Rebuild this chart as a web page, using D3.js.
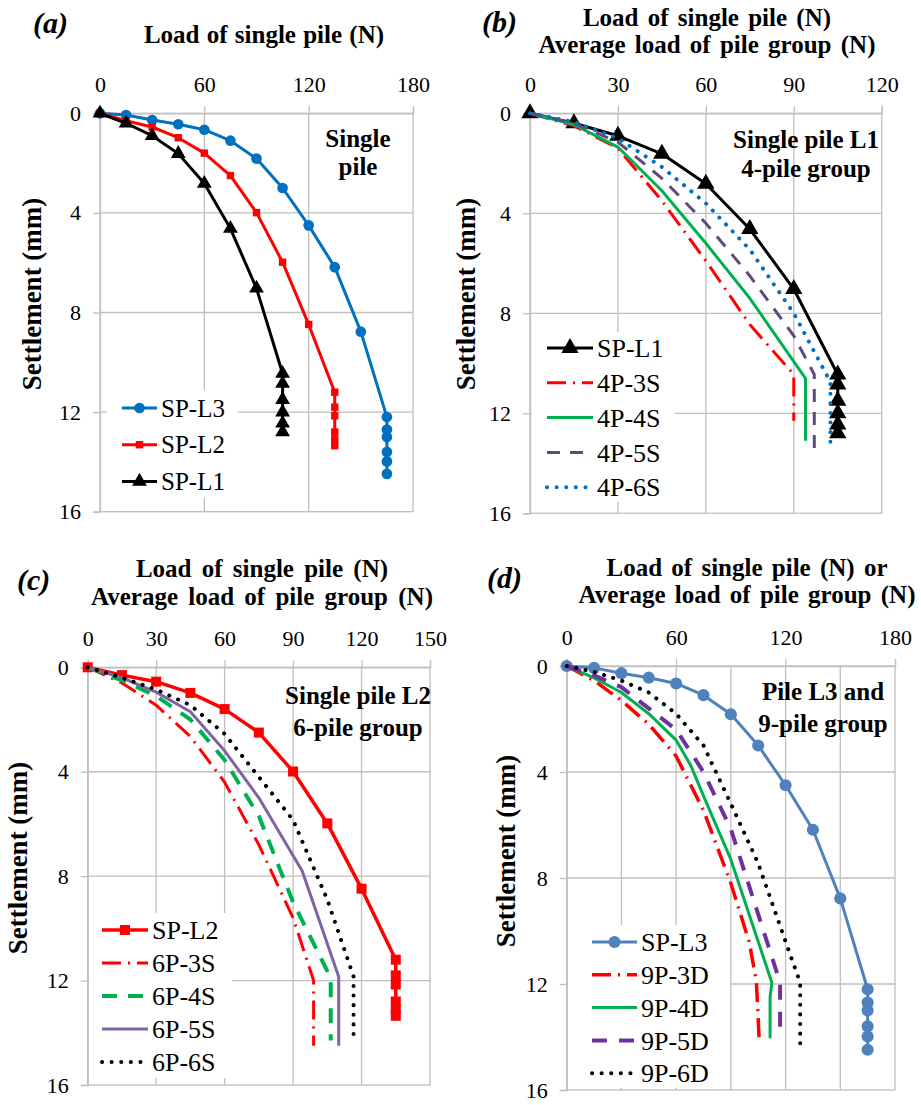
<!DOCTYPE html>
<html>
<head>
<meta charset="utf-8">
<script src="https://cdn.jsdelivr.net/npm/d3@7"></script>
<style>
body { margin: 0; background: #fff; }
svg text { font-family: "Liberation Serif", "Times New Roman", serif; fill: #000; }
</style>
</head>
<body>
<script>
var w = 921;
var h = 1105;

// settlement axis, same for every panel
var yTicks = [0, 4, 8, 12, 16];
var yGrid = [4, 8, 12];

// single piles (load N, settlement mm)
var spL1Load   = [0, 15, 30, 45, 60, 75, 90, 105, 105, 105, 105, 105, 105];
var spL1Settle = [0, 0.4, 0.9, 1.62, 2.82, 4.63, 7.03, 10.45, 10.85, 11.5, 12.0, 12.45, 12.8];
var spL2Load   = [0, 15, 30, 45, 60, 75, 90, 105, 120, 135, 135, 135, 135, 135, 135];
var spL2Settle = [0, 0.3, 0.55, 0.98, 1.6, 2.5, 3.99, 5.98, 8.48, 11.2, 11.8, 12.15, 12.8, 13.1, 13.35];
var spL3Load   = [0, 15, 30, 45, 60, 75, 90, 105, 120, 135, 150, 165, 165, 165, 165, 165, 165];
var spL3Settle = [0, 0.07, 0.27, 0.44, 0.66, 1.1, 1.82, 3.0, 4.5, 6.18, 8.77, 12.2, 12.7, 13.0, 13.6, 13.98, 14.48];

// 4-pile group (average load per pile)
var p4s3Load   = [0, 15, 30, 45, 60, 75, 90, 90];
var p4s3Settle = [0, 0.5, 1.4, 3.5, 5.9, 8.45, 10.45, 12.3];
var p4s4Load   = [0, 15, 30, 45, 60, 75, 94, 94];
var p4s4Settle = [0, 0.45, 1.35, 3.1, 5.2, 7.4, 10.6, 13.1];
var p4s5Load   = [0, 15, 30, 45, 60, 75, 90, 97, 97];
var p4s5Settle = [0, 0.4, 1.15, 2.6, 4.4, 6.5, 8.9, 10.45, 13.45];
var p4s6Load   = [0, 15, 30, 45, 60, 75, 90, 102.5, 102.5];
var p4s6Settle = [0, 0.35, 1.0, 2.15, 3.6, 5.45, 8.0, 10.75, 13.15];

// 6-pile group
var p6s3Load   = [0, 15, 30, 45, 60, 75, 90, 99, 99];
var p6s3Settle = [0, 0.6, 1.45, 2.65, 4.4, 6.8, 9.6, 12.0, 14.5];
var p6s4Load   = [0, 15, 30, 45, 60, 75, 90, 106.5, 106.5];
var p6s4Settle = [0, 0.5, 1.1, 2.0, 3.55, 5.7, 9.0, 11.9, 14.3];
var p6s5Load   = [0, 15, 30, 45, 60, 75, 94, 110, 110];
var p6s5Settle = [0, 0.4, 0.95, 1.7, 3.2, 5.0, 7.8, 11.85, 14.5];
var p6s6Load   = [0, 15, 30, 45, 60, 75, 90, 105, 116.5, 116.5];
var p6s6Settle = [0, 0.4, 0.85, 1.45, 2.55, 4.2, 5.85, 8.9, 11.85, 14.3];

// 9-pile group
var p9d3Load   = [0, 15, 30, 45, 60, 75, 90, 100, 104, 105.5];
var p9d3Settle = [0, 0.55, 1.3, 2.2, 3.4, 5.45, 8.2, 10.4, 11.9, 14.05];
var p9d4Load   = [0, 15, 30, 45, 60, 68, 75, 90, 112.5, 111.5, 111.5];
var p9d4Settle = [0, 0.45, 1.0, 1.8, 2.8, 3.75, 4.9, 7.3, 11.95, 12.5, 14.05];
var p9d5Load   = [0, 15, 30, 45, 60, 75, 90, 117, 117];
var p9d5Settle = [0, 0.35, 0.8, 1.6, 2.4, 4.0, 6.15, 11.95, 13.7];
var p9d6Load   = [0, 15, 30, 45, 60, 75, 90, 105, 120, 128, 128];
var p9d6Settle = [0, 0.22, 0.55, 1.0, 1.8, 3.0, 5.2, 7.45, 10.4, 11.95, 14.25];

// tick labels of the load axes
var xTicksA = [0, 60, 120, 180];
var xTicksB = [0, 30, 60, 90, 120];
var xTicksC = [0, 30, 60, 90, 120, 150];
var xTicksD = [0, 60, 120, 180];

var svg = d3.select("body")
            .append("svg")
            .attr("width", w)
            .attr("height", h);

var DASHDOT = "19 7 2 7";
var DOT = "0.1 9.5";

var panels = [
  {
    label: "(a)", labelX: 33, labelY: 33,
    left: 100, right: 413, top: 113.3, bottom: 511.7, xMax: 180,
    xTicks: xTicksA, xGrid: [60, 120],
    title: ["Load of single pile (N)"], titleX: 264, titleY: [43], titleSpace: 1,
    yLabelX: 32, yLabelY: 294,
    note: ["Single", "pile"], noteX: 358, noteY: [147, 175],
    legend: { x: 122, y: 408, step: 36.7, box: [107, 390, 131, 108], lineW: 35, font: 25 },
    series: [
      { name: "SP-L3", load: spL3Load, settle: spL3Settle, color: "#0070C0", width: 3, marker: d3.symbolCircle, msize: 90 },
      { name: "SP-L2", load: spL2Load, settle: spL2Settle, color: "#FF0000", width: 3, marker: d3.symbolSquare, msize: 55 },
      { name: "SP-L1", load: spL1Load, settle: spL1Settle, color: "#000000", width: 3, marker: d3.symbolTriangle, msize: 95 }
    ]
  },
  {
    label: "(b)", labelX: 482, labelY: 32,
    left: 530, right: 881.7, top: 113.3, bottom: 513.3, xMax: 120,
    xTicks: xTicksB, xGrid: [30, 60, 90],
    title: ["Load of single pile (N)", "Average load of pile group (N)"], titleX: 707, titleY: [26, 53], titleSpace: 3,
    yLabelX: 466, yLabelY: 294,
    note: ["Single pile L1", "4-pile group"], noteX: 806, noteY: [148, 177],
    legend: { x: 547, y: 348, step: 34.8, box: [532, 332, 143, 170], lineW: 46, font: 26 },
    series: [
      { name: "SP-L1", load: spL1Load, settle: spL1Settle, color: "#000000", width: 3, marker: d3.symbolTriangle, msize: 130 },
      { name: "4P-3S", load: p4s3Load, settle: p4s3Settle, color: "#FF0000", width: 3, dash: DASHDOT },
      { name: "4P-4S", load: p4s4Load, settle: p4s4Settle, color: "#00B050", width: 3 },
      { name: "4P-5S", load: p4s5Load, settle: p4s5Settle, color: "#604A7B", width: 3, dash: "13 10" },
      { name: "4P-6S", load: p4s6Load, settle: p4s6Settle, color: "#0070C0", width: 4, dash: DOT, round: true }
    ]
  },
  {
    label: "(c)", labelX: 17, labelY: 590,
    left: 87.7, right: 430, top: 667.3, bottom: 1085, xMax: 150,
    xTicks: xTicksC, xGrid: [30, 60, 90, 120],
    title: ["Load of single pile (N)", "Average load of pile group (N)"], titleX: 262, titleY: [577, 605], titleSpace: 4,
    yLabelX: 18, yLabelY: 858,
    note: ["Single pile L2", "6-pile group"], noteX: 358, noteY: [704, 736],
    legend: { x: 102, y: 930, step: 33, box: [89, 913, 143, 165], lineW: 46, font: 26 },
    series: [
      { name: "SP-L2", load: spL2Load, settle: spL2Settle, color: "#FF0000", width: 3.5, marker: d3.symbolSquare, msize: 100 },
      { name: "6P-3S", load: p6s3Load, settle: p6s3Settle, color: "#FF0000", width: 3, dash: DASHDOT },
      { name: "6P-4S", load: p6s4Load, settle: p6s4Settle, color: "#00B050", width: 4, dash: "15 11" },
      { name: "6P-5S", load: p6s5Load, settle: p6s5Settle, color: "#8064A2", width: 3 },
      { name: "6P-6S", load: p6s6Load, settle: p6s6Settle, color: "#000000", width: 4, dash: DOT, round: true }
    ]
  },
  {
    label: "(d)", labelX: 487, labelY: 588,
    left: 566.7, right: 895, top: 666, bottom: 1090, xMax: 180,
    xTicks: xTicksD, xGrid: [30, 60, 90, 120, 150],
    title: ["Load of single pile (N) or", "Average load of pile group (N)"], titleX: 747, titleY: [576, 603], titleSpace: 3,
    yLabelX: 506, yLabelY: 851,
    note: ["Pile L3 and", "9-pile group"], noteX: 823, noteY: [700, 732],
    legend: { x: 592, y: 942, step: 32.8, box: [568, 925, 162, 163], lineW: 45, font: 26 },
    series: [
      { name: "SP-L3", load: spL3Load, settle: spL3Settle, color: "#4F81BD", width: 3, marker: d3.symbolCircle, msize: 115 },
      { name: "9P-3D", load: p9d3Load, settle: p9d3Settle, color: "#FF0000", width: 3.5, dash: DASHDOT },
      { name: "9P-4D", load: p9d4Load, settle: p9d4Settle, color: "#00B050", width: 3 },
      { name: "9P-5D", load: p9d5Load, settle: p9d5Settle, color: "#7030A0", width: 4, dash: "15 12" },
      { name: "9P-6D", load: p9d6Load, settle: p9d6Settle, color: "#000000", width: 4, dash: DOT, round: true }
    ]
  }
];

function styleLine(sel, s) {
  sel.style("fill", "none")
     .style("stroke", s.color)
     .style("stroke-width", s.width)
     .style("stroke-linejoin", "round")
     .style("stroke-linecap", s.round ? "round" : "butt");
  if (s.dash) sel.style("stroke-dasharray", s.dash);
}

function drawPanel(p) {
  var x = d3.scaleLinear().domain([0, p.xMax]).range([p.left, p.right]);
  var y = d3.scaleLinear().domain([0, 16]).range([p.top, p.bottom]);
  var g = svg.append("g");

  // grid
  g.selectAll(".vgrid")
   .data(p.xGrid)
   .enter()
   .append("line")
   .attr("x1", function (d) { return x(d); })
   .attr("x2", function (d) { return x(d); })
   .attr("y1", p.top)
   .attr("y2", p.bottom)
   .style("stroke", "#bfbfbf")
   .style("stroke-width", 1.3);
  g.selectAll(".hgrid")
   .data(yGrid)
   .enter()
   .append("line")
   .attr("x1", p.left)
   .attr("x2", p.right)
   .attr("y1", function (d) { return y(d); })
   .attr("y2", function (d) { return y(d); })
   .style("stroke", "#bfbfbf")
   .style("stroke-width", 1.3);
  g.append("rect")
   .attr("x", p.left)
   .attr("y", p.top)
   .attr("width", p.right - p.left)
   .attr("height", p.bottom - p.top)
   .style("fill", "none")
   .style("stroke", "#bfbfbf")
   .style("stroke-width", 1.3);

  // axes
  var xAxis = g.append("g")
               .attr("transform", "translate(0," + p.top + ")")
               .call(d3.axisTop(x).tickValues(p.xTicks).tickSize(7).tickPadding(14));
  var yAxis = g.append("g")
               .attr("transform", "translate(" + p.left + ",0)")
               .call(d3.axisLeft(y).tickValues(yTicks).tickSize(7).tickPadding(12));
  [xAxis, yAxis].forEach(function (a) {
    a.select(".domain").style("stroke", "#bfbfbf").style("stroke-width", 1.3);
    a.selectAll(".tick line").style("stroke", "#bfbfbf").style("stroke-width", 1.3);
    a.selectAll(".tick text")
     .style("font-family", "'Liberation Serif', 'Times New Roman', serif")
     .style("font-size", "22px")
     .style("fill", "#000");
  });

  // series
  p.series.forEach(function (s) {
    var pts = d3.zip(s.load, s.settle);
    var line = d3.line()
                 .x(function (d) { return x(d[0]); })
                 .y(function (d) { return y(d[1]); });
    g.append("path").attr("d", line(pts)).call(styleLine, s);
    if (s.marker) {
      g.selectAll(null)
       .data(pts)
       .enter()
       .append("path")
       .attr("d", d3.symbol().type(s.marker).size(s.msize))
       .attr("transform", function (d) { return "translate(" + x(d[0]) + "," + y(d[1]) + ")"; })
       .style("fill", s.color);
    }
  });

  // legend
  var L = p.legend;
  g.append("rect")
   .attr("x", L.box[0]).attr("y", L.box[1])
   .attr("width", L.box[2]).attr("height", L.box[3])
   .style("fill", "#fff");
  p.series.forEach(function (s, i) {
    var ly = L.y + i * L.step;
    g.append("line")
     .attr("x1", L.x).attr("x2", L.x + L.lineW)
     .attr("y1", ly).attr("y2", ly)
     .call(styleLine, s);
    if (s.marker) {
      g.append("path")
       .attr("d", d3.symbol().type(s.marker).size(s.msize))
       .attr("transform", "translate(" + (L.x + L.lineW / 2) + "," + ly + ")")
       .style("fill", s.color);
    }
    g.append("text")
     .attr("x", L.x + L.lineW + 4)
     .attr("y", ly)
     .attr("dy", "0.35em")
     .style("font-size", L.font + "px")
     .text(s.name);
  });

  // texts
  g.append("text")
   .attr("x", p.labelX).attr("y", p.labelY)
   .style("font-size", "30px").style("font-weight", "bold").style("font-style", "italic")
   .text(p.label);
  p.title.forEach(function (t, i) {
    g.append("text")
     .attr("x", p.titleX).attr("y", p.titleY[i])
     .attr("text-anchor", "middle")
     .style("font-size", "25px").style("font-weight", "bold").style("word-spacing", p.titleSpace + "px")
     .text(t);
  });
  p.note.forEach(function (t, i) {
    g.append("text")
     .attr("x", p.noteX).attr("y", p.noteY[i])
     .attr("text-anchor", "middle")
     .style("font-size", "25px").style("font-weight", "bold")
     .text(t);
  });
  g.append("text")
   .attr("transform", "translate(" + p.yLabelX + "," + p.yLabelY + ") rotate(-90)")
   .attr("text-anchor", "middle")
   .attr("dy", "0.35em")
   .style("font-size", "27px").style("font-weight", "bold")
   .text("Settlement (mm)");
}

panels.forEach(drawPanel);
</script>
</body>
</html>
